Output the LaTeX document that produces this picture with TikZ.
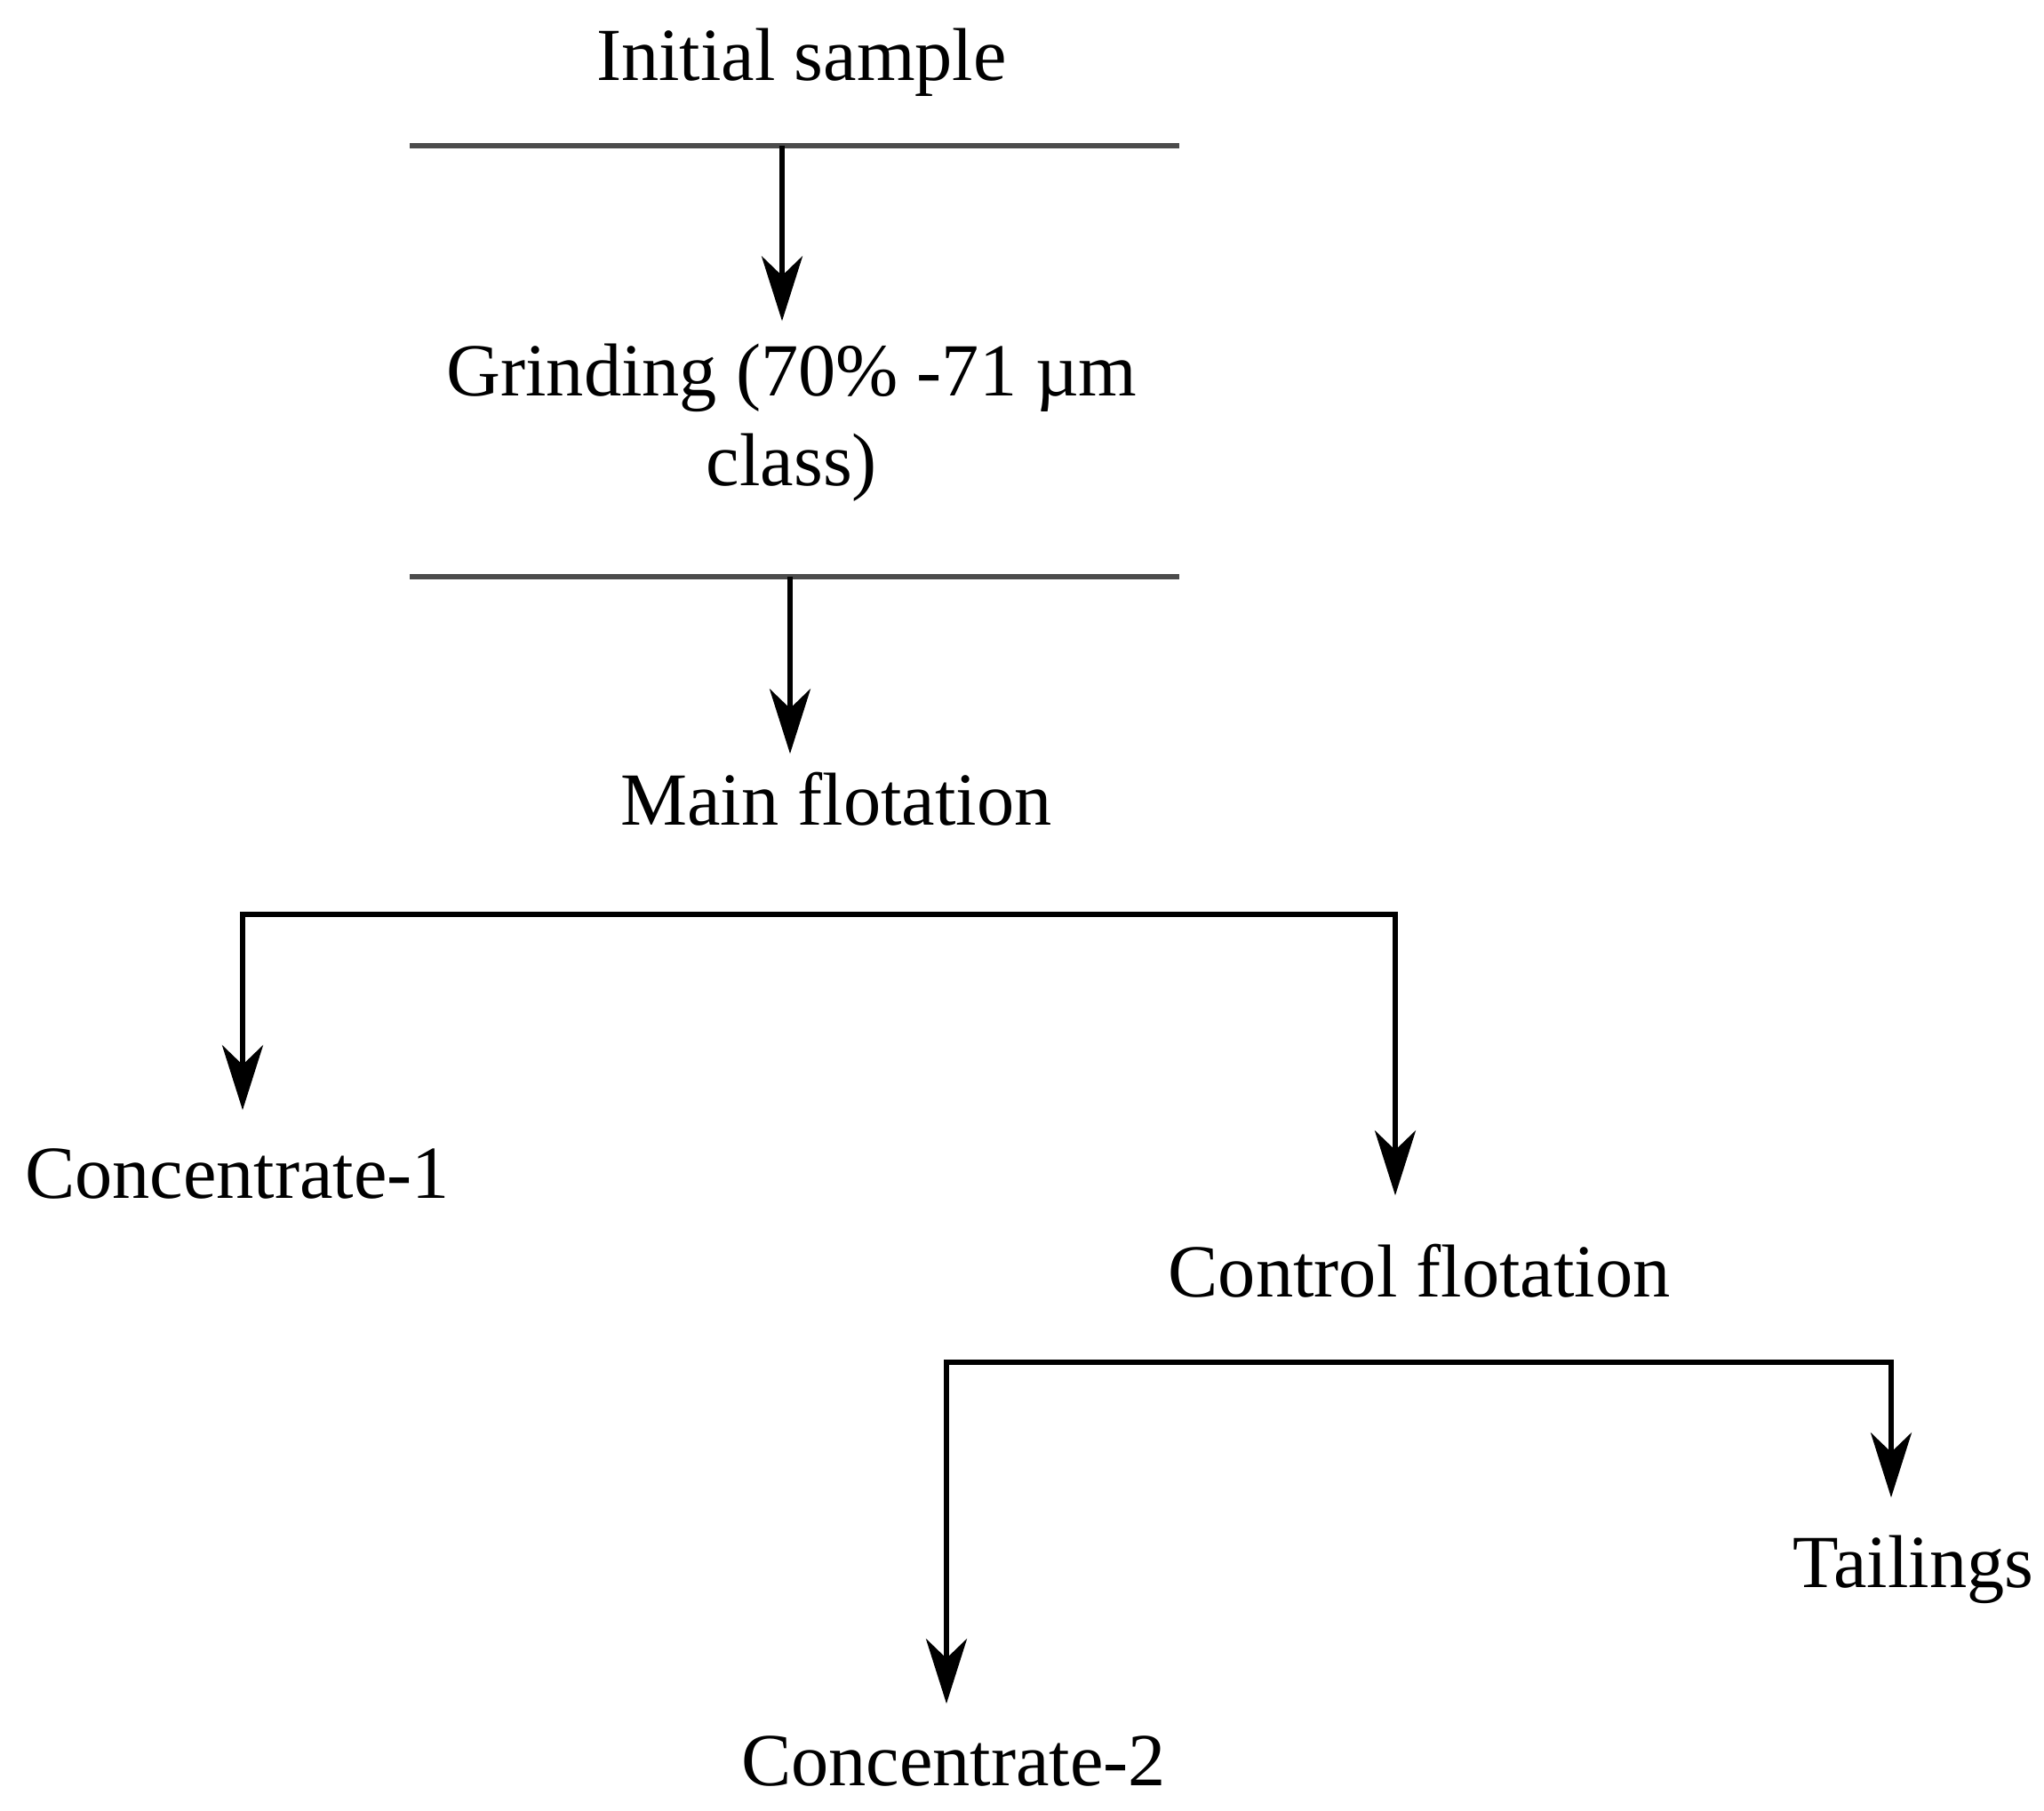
\documentclass[tikz,border=0pt]{standalone}
\usepackage{fontspec}
\setmainfont{Liberation Serif}
\usepackage{tikz}
\usetikzlibrary{arrows.meta}
\usetikzlibrary{calc}
\tikzset{>={Stealth[length=7.3mm,width=4.6mm,inset=2.2mm]}}
\tikzset{
    lbl/.style={inner sep=0pt, outer sep=0pt, align=center,
        font=\fontsize{24}{29}\selectfont, text height=17pt, text depth=5pt},
    flow/.style={->, line width=1.7pt, shorten >=0.3cm},
    bar/.style={line width=1.9pt, color=black!70},
}

\begin{document}
\begin{tikzpicture} % flotation flowsheet
	\useasboundingbox (0,0) rectangle (23,20.38);
	\node[lbl, anchor=base] (init) at (9.02, 19.47) {Initial sample};
	\coordinate (b1l) at (4.61, 18.74);
	\coordinate (b1r) at (13.27, 18.74);
	\coordinate (b1a) at (8.80, 18.74);
	\node[lbl, anchor=base, text height=46pt] (grind) at (8.91, 14.91) {Grinding (70\% -71 µm\\class)};
	\coordinate (b2l) at (4.61, 13.89);
	\coordinate (b2r) at (13.27, 13.89);
	\coordinate (b2a) at (8.89, 13.89);
	\node[lbl, anchor=base] (main) at (9.41, 11.09) {Main flotation};
	% first split
	\coordinate (s1l) at (2.73, 10.09);
	\coordinate (s1r) at (15.70, 10.09);
	\node[lbl, anchor=base] (conc1) at (2.67, 6.89) {Concentrate-1};
	\node[lbl, anchor=base] (ctrl) at (15.97, 5.78) {Control flotation};
	% second split
	\coordinate (s2l) at (10.65, 5.05);
	\coordinate (s2r) at (21.28, 5.05);
	\node[lbl, anchor=base] (tail) at (21.53, 2.51) {Tailings};
	\node[lbl, anchor=base] (conc2) at (10.73, 0.28) {Concentrate-2};
	\draw[bar] (b1l) -- (b1r);
	\draw[bar] (b2l) -- (b2r);
	\draw[flow, shorten >=0.24cm] (b1a) -- (b1a |- grind.north);
	\draw[flow, shorten >=0.21cm] (b2a) -- (b2a |- main.north);
	\draw[flow, shorten >=0.4cm] (s1r) -- (s1l) -- (s1l |- conc1.north);
	\draw[flow, shorten >=0.55cm] (s1l) -- (s1r) -- (s1r |- ctrl.north);
	\draw[flow, shorten >=0.33cm] (s2r) -- (s2l) -- (s2l |- conc2.north);
	\draw[flow, shorten >=0.42cm] (s2l) -- (s2r) -- (s2r |- tail.north);
\end{tikzpicture}
\end{document}
